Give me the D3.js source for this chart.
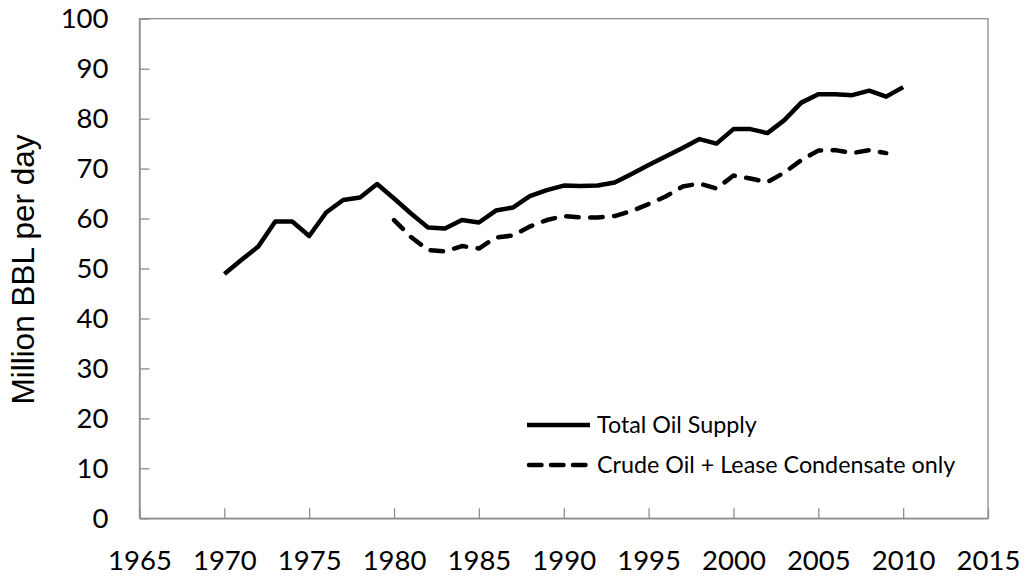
<!DOCTYPE html>
<html>
<head>
<meta charset="utf-8">
<script src="https://cdn.jsdelivr.net/npm/d3@7"></script>
<style>
  body { margin: 0; background: #fff; }
  svg text { font-family: Lato, "Open Sans", sans-serif; fill: #000; }
</style>
</head>
<body>
<svg id="chart" width="1024" height="579"></svg>
<script>
(function() {
    var width = 1024, height = 579;
    var margin = {left: 139.5, top: 18.7, right: 36, bottom: 60.7};

    // years
    var totalYears = d3.range(1970, 2011);
    var crudeYears = d3.range(1980, 2010);
    // million barrels per day
    var totalSupply = [48.9, 51.7, 54.4, 59.4, 59.4, 56.5, 61.2, 63.7, 64.2, 66.9,
                       64.0, 61.0, 58.2, 58.0, 59.7, 59.2, 61.6, 62.2, 64.5, 65.7,
                       66.6, 66.5, 66.6, 67.2, 68.9, 70.7, 72.4, 74.1, 75.9, 75.0,
                       77.9, 77.9, 77.1, 79.7, 83.2, 84.9, 84.9, 84.7, 85.6, 84.4, 86.3];
    var crudeSupply = [59.7, 56.3, 53.7, 53.4, 54.5, 54.0, 56.2, 56.6, 58.4, 59.7,
                       60.5, 60.2, 60.2, 60.5, 61.5, 62.9, 64.4, 66.4, 67.0, 66.0,
                       68.6, 68.0, 67.3, 69.2, 71.7, 73.6, 73.7, 73.1, 73.7, 73.1];
    var xTicks = d3.range(1965, 2016, 5);
    var yTicks = d3.range(0, 101, 10);
    var seriesNames = ["Total Oil Supply", "Crude Oil + Lease Condensate only"];

    var svg = d3.select("#chart");
    var w = width - margin.left - margin.right;
    var h = height - margin.top - margin.bottom;

    var x = d3.scaleLinear().domain([1965, 2015]).range([0, w]);
    var y = d3.scaleLinear().domain([0, 100]).range([h, 0]);

    var chart = svg.append("g")
        .attr("transform", `translate(${margin.left}, ${margin.top})`);

    // frame
    chart.append("rect")
        .attr("width", w).attr("height", h)
        .style("fill", "none")
        .style("stroke", "#8c8c8c")
        .style("stroke-width", 1.3);

    var yAxis = chart.append("g")
        .call(d3.axisLeft(y).tickValues(yTicks).tickSizeInner(-10).tickSizeOuter(0).tickPadding(31));
    var xAxis = chart.append("g")
        .attr("transform", `translate(0, ${h})`)
        .call(d3.axisBottom(x).tickValues(xTicks).tickFormat(d3.format("d"))
            .tickSizeInner(-10).tickSizeOuter(0).tickPadding(32));

    [yAxis, xAxis].forEach(function(a) {
        a.select(".domain").style("stroke", "#8c8c8c").style("stroke-width", 1.3);
        a.selectAll(".tick line").style("stroke", "#8c8c8c").style("stroke-width", 1.3);
        a.selectAll(".tick text")
            .style("font-size", "27.5px")
            .style("font-family", "Lato, sans-serif")
            .style("fill", "#000");
    });

    // axis title
    svg.append("text")
        .attr("transform", `translate(34, ${margin.top + h / 2 + 1}) rotate(-90)`)
        .attr("text-anchor", "middle")
        .style("font-family", "'Liberation Sans', Arial, sans-serif")
        .style("font-size", "31.5px")
        .text("Million BBL per day");

    var line = d3.line()
        .x(function(d) { return x(d[0]); })
        .y(function(d) { return y(d[1]); });

    chart.append("path")
        .datum(d3.zip(totalYears, totalSupply))
        .attr("d", line)
        .style("fill", "none")
        .style("stroke", "#000")
        .style("stroke-width", 4.5)
        .style("stroke-linejoin", "round");

    chart.append("path")
        .datum(d3.zip(crudeYears, crudeSupply))
        .attr("d", line)
        .style("fill", "none")
        .style("stroke", "#000")
        .style("stroke-width", 4.5)
        .style("stroke-linejoin", "round")
        .style("stroke-linecap", "round")
        .style("stroke-dasharray", "12.5,11.5");

    // legend
    var legend = svg.append("g").attr("transform", "translate(527, 425)");
    seriesNames.forEach(function(name, i) {
        var g = legend.append("g").attr("transform", `translate(0, ${i * 40})`);
        g.append("line")
            .attr("x1", i ? 2 : 0).attr("x2", i ? 61 : 63)
            .style("stroke", "#000")
            .style("stroke-width", 4.5)
            .style("stroke-linecap", i ? "round" : "butt")
            .style("stroke-dasharray", i ? "12.5,9.5" : null);
        g.append("text")
            .attr("x", 70).attr("y", 8)
            .style("font-size", "23.3px")
            .text(name);
    });
})();
</script>
</body>
</html>
